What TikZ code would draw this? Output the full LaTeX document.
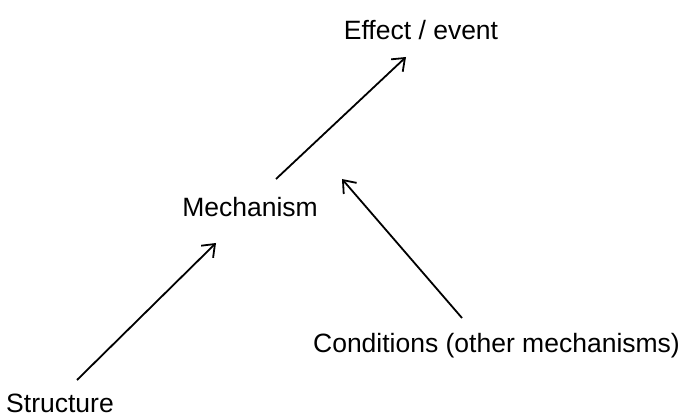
\documentclass[tikz,border=0pt]{standalone}
\usepackage{fontspec}
\setmainfont{Liberation Sans}
\usetikzlibrary{arrows.meta}
\begin{document}
\begin{tikzpicture}[x=1pt,y=-1pt,
  label/.style={inner sep=0pt,anchor=base,font=\fontsize{26.5}{31}\selectfont},
  link/.style={line width=1.8pt,-{Straight Barb[length=11pt,width=17pt,line width=1.8pt]}}]
\useasboundingbox (0,0) rectangle (683,419);
% labels
\node[label] (effect) at (421,40) {Effect / event};
\node[label] (mech) at (250,217) {Mechanism};
\node[label] (cond) at (496.5,353) {Conditions (other mechanisms)};
\node[label] (struct) at (60,413) {Structure};
% connector ends
\coordinate (structOut) at (77,380);
\coordinate (mechIn) at (216,243);
\coordinate (mechOut) at (276,179);
\coordinate (effectIn) at (406,57);
\coordinate (condOut) at (462,318);
\coordinate (mechSide) at (342,179);
% connectors
\draw[link] (structOut) -- (mechIn);
\draw[link] (mechOut) -- (effectIn);
\draw[link] (condOut) -- (mechSide);
\end{tikzpicture}
\end{document}
